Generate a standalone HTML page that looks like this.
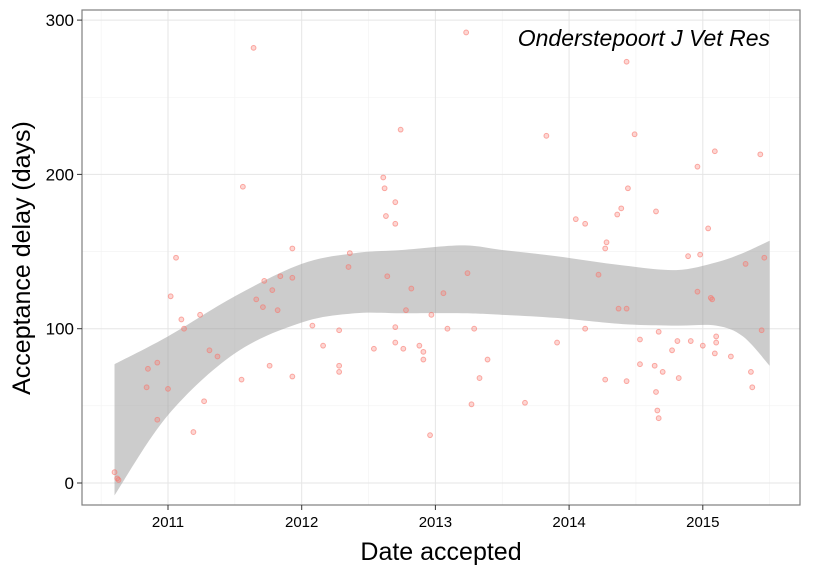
<!DOCTYPE html>
<html><head><meta charset="utf-8"><style>
html,body{margin:0;padding:0;background:#fff;}
svg text{font-family:"Liberation Sans",sans-serif;}
</style></head><body>
<svg width="825" height="570" viewBox="0 0 825 570">
<g id="grid"></g>
<g id="band"></g>
<g id="points"></g>
<rect x="82" y="10" width="718" height="495" fill="none" stroke="#7f7f7f" stroke-width="1.2"/>
<g id="axes"></g>
<text x="770" y="46" text-anchor="end" font-size="23" font-style="italic" fill="#000">Onderstepoort J Vet Res</text>
<text x="441" y="560" text-anchor="middle" font-size="25" fill="#000">Date accepted</text>
<text transform="translate(30,258) rotate(-90)" text-anchor="middle" font-size="25" fill="#000">Acceptance delay (days)</text>
</svg>
<script>
const xTicks=[2011,2012,2013,2014,2015];
const yTicks=[0,100,200,300];
const bandX=[2010.6,2011.0,2011.5,2012.0,2012.4,2012.75,2013.2,2013.5,2013.9,2014.4,2014.8,2015.1,2015.3,2015.5];
const bandUpper=[77,95,121,142,149,151,154,151,147,141,138,143,149,157];
const bandLower=[-8,44,84,104,110,110,110,109,107,103,102,102,95,76];
const ptYear=[2010.60,2010.62,2010.63,2010.84,2010.85,2010.92,2010.92,2011.0,2011.02,2011.06,2011.10,2011.12,2011.19,2011.24,2011.27,2011.31,2011.37,2011.55,2011.56,2011.64,2011.66,2011.71,2011.72,2011.76,2011.78,2011.82,2011.84,2011.93,2011.93,2011.93,2012.08,2012.16,2012.28,2012.28,2012.28,2012.35,2012.36,2012.54,2012.61,2012.62,2012.63,2012.64,2012.70,2012.70,2012.70,2012.70,2012.74,2012.76,2012.78,2012.82,2012.88,2012.91,2012.91,2012.96,2012.97,2013.06,2013.09,2013.23,2013.24,2013.27,2013.29,2013.33,2013.39,2013.67,2013.83,2013.91,2014.05,2014.12,2014.12,2014.22,2014.27,2014.27,2014.28,2014.36,2014.37,2014.39,2014.43,2014.43,2014.43,2014.44,2014.49,2014.53,2014.53,2014.64,2014.65,2014.65,2014.66,2014.67,2014.67,2014.70,2014.77,2014.81,2014.82,2014.89,2014.91,2014.96,2014.96,2014.98,2015.0,2015.04,2015.06,2015.07,2015.09,2015.09,2015.10,2015.10,2015.21,2015.32,2015.36,2015.37,2015.43,2015.44,2015.46];
const ptDelay=[7,3,2,62,74,78,41,61,121,146,106,100,33,109,53,86,82,67,192,282,119,114,131,76,125,112,134,133,152,69,102,89,99,76,72,140,149,87,198,191,173,134,182,168,101,91,229,87,112,126,89,85,80,31,109,123,100,292,136,51,100,68,80,52,225,91,171,168,100,135,67,152,156,174,113,178,273,113,66,191,226,93,77,76,176,59,47,42,98,72,86,92,68,147,92,205,124,148,89,165,120,119,215,84,95,91,82,142,72,62,213,99,146];

const L=82,R=800,T=10,B=505;
const sx=y=>168+(y-2011)*133.7;
const sy=v=>483-v*1.543;
const NS="http://www.w3.org/2000/svg";
function mk(tag,attrs,parent){const e=document.createElementNS(NS,tag);for(const k in attrs)e.setAttribute(k,attrs[k]);parent.appendChild(e);return e;}
const grid=document.getElementById('grid'),axes=document.getElementById('axes');
mk('rect',{x:L,y:T,width:R-L,height:B-T,fill:'#fff'},grid);
for(let i=0;i<xTicks.length+1;i++){const y=xTicks[0]-0.5+i;const x=sx(y);if(x>L&&x<R){const l=mk('line',{x1:x,x2:x,y1:T,y2:B,stroke:'#f2f2f2','stroke-width':0.6},grid);}}
for(let i=0;i<yTicks.length;i++){const v=yTicks[i]+50;const y=sy(v);if(y>T&&y<B){const l=mk('line',{x1:L,x2:R,y1:y,y2:y,stroke:'#f2f2f2','stroke-width':0.6},grid);}}
xTicks.forEach(t=>{const x=sx(t);
const g=mk('line',{x1:x,x2:x,y1:T,y2:B,stroke:'#e5e5e5','stroke-width':1},grid);

const tk=mk('line',{x1:x,x2:x,y1:B,y2:B+5,stroke:'#333','stroke-width':1},axes);

const tx=mk('text',{x:x,y:B+22,'text-anchor':'middle','font-size':15,fill:'#000'},axes);tx.textContent=t;
});
yTicks.forEach(t=>{const y=sy(t);
const g=mk('line',{x1:L,x2:R,y1:y,y2:y,stroke:'#e5e5e5','stroke-width':1},grid);

const tk=mk('line',{x1:L-5,x2:L,y1:y,y2:y,stroke:'#333','stroke-width':1},axes);

const tx=mk('text',{x:L-8,y:y+6,'text-anchor':'end','font-size':17,fill:'#000'},axes);tx.textContent=t;
});
function curve(pts){let d='';for(let i=0;i<pts.length-1;i++){const p0=pts[Math.max(i-1,0)],p1=pts[i],p2=pts[i+1],p3=pts[Math.min(i+2,pts.length-1)];
const c1=[p1[0]+(p2[0]-p0[0])/6,p1[1]+(p2[1]-p0[1])/6],c2=[p2[0]-(p3[0]-p1[0])/6,p2[1]-(p3[1]-p1[1])/6];
d+=' C'+c1+' '+c2+' '+p2;}return d;}
const up=bandX.map((x,i)=>[sx(x),sy(bandUpper[i])]);
const lo=bandX.map((x,i)=>[sx(x),sy(bandLower[i])]).reverse();
const d='M'+up[0]+curve(up)+' L'+lo[0]+curve(lo)+'Z';
const band=mk('path',{d:d,fill:'#999',opacity:0.5},document.getElementById('band'));

const pg=document.getElementById('points');
ptYear.forEach((yr,i)=>{const c=mk('circle',{cx:sx(yr),cy:sy(ptDelay[i]),r:2.4,fill:'rgba(248,118,109,0.3)',stroke:'rgba(248,118,109,0.6)','stroke-width':1},pg);
});
</script>
</body></html>
